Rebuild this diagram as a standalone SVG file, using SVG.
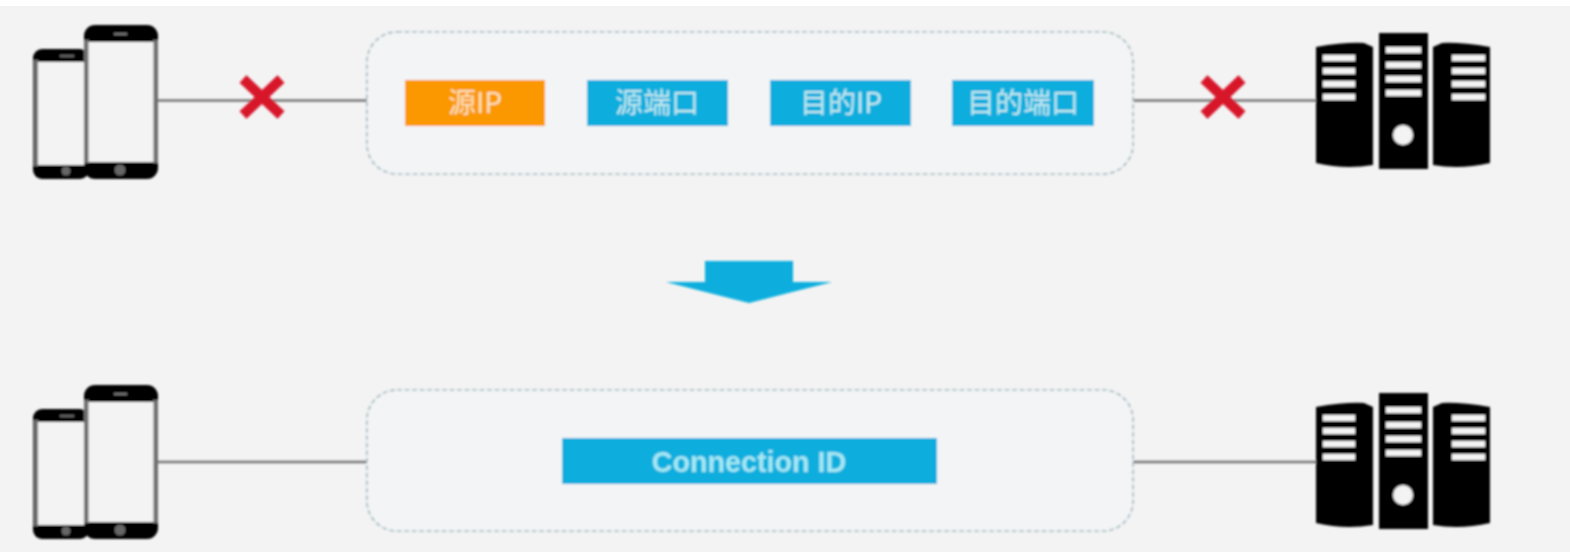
<svg xmlns="http://www.w3.org/2000/svg" width="1570" height="552" viewBox="0 0 1570 552">
<style>
.box{fill:#f3f4f6;stroke:#a5bcc2;stroke-width:1.7;stroke-dasharray:5 2.5}
.line{stroke:#777;stroke-width:2.6;fill:none}
.x{stroke:#d8142a;stroke-width:10;fill:none}
.lbl{font-family:"Noto Sans CJK SC","Liberation Sans",sans-serif;font-size:28px;fill:#c6ecf0;text-anchor:middle;font-weight:400}
.lbl2{fill:#fbe3bd}
.en{font-family:"Liberation Sans",Arial,sans-serif;font-size:28.700px;font-weight:700;fill:#a5e8f4;text-anchor:middle}
.blue{fill:#07aede}
.orange{fill:#fb9804}
.k{fill:#050505}
.g{fill:#6e6e6e}
.s{fill:#f3f3f3}
</style>
<defs>
<filter id="b" x="-10%" y="-10%" width="120%" height="120%"><feGaussianBlur stdDeviation="1"/></filter>
<g id="phones">
<rect x="33" y="49" width="56" height="130" rx="9" class="k"/>
<rect x="33.500" y="60" width="5" height="106" class="g"/>
<rect x="38" y="62" width="46" height="103" fill="#f3f3f3"/>
<rect x="60" y="55" width="14" height="2" fill="#666"/>
<circle cx="66" cy="171" r="4.500" fill="#666"/>
<rect x="84" y="25" width="74" height="154" rx="11" class="k"/>
<rect x="84" y="40" width="5" height="123" class="g"/>
<rect x="153" y="40" width="5" height="123" class="g"/>
<rect x="88.500" y="42" width="65" height="120" fill="#f3f3f3"/>
<rect x="114" y="33" width="13" height="2" fill="#777"/>
<circle cx="120" cy="170" r="5.500" fill="#666"/>
</g>
<g id="servers">
<path class="k" d="M1316 47 Q1345 42 1364 43 L1373 47 V165 Q1345 170 1316 163Z"/>
<rect x="1379" y="33" width="49" height="136" class="k"/>
<path class="k" d="M1490 47 Q1460 42 1442 43 L1433 47 V165 Q1460 170 1490 163Z"/>
<g class="s">
<rect x="1323" y="55" width="32" height="6"/><rect x="1323" y="68" width="32" height="6"/><rect x="1323" y="81" width="32" height="6"/><rect x="1323" y="94" width="32" height="6"/>
<rect x="1386" y="47" width="35" height="6"/><rect x="1386" y="62" width="35" height="6"/><rect x="1386" y="76" width="35" height="6"/><rect x="1386" y="90" width="35" height="6"/>
<rect x="1452" y="55" width="33" height="6"/><rect x="1452" y="68" width="33" height="6"/><rect x="1452" y="81" width="33" height="6"/><rect x="1452" y="94" width="33" height="6"/>
<circle cx="1403" cy="135" r="10"/>
</g>
</g>
</defs>
<rect width="1570" height="552" fill="#f3f3f3"/>
<rect width="1570" height="6" fill="#fff"/>
<g filter="url(#b)">
<g id="connectors">
<line class="line" x1="158" y1="100.500" x2="367" y2="100.500"/>
<line class="line" x1="1133" y1="100.500" x2="1316" y2="100.500"/>
<line class="line" x1="158" y1="462" x2="367" y2="462"/>
<line class="line" x1="1133" y1="462" x2="1316" y2="462"/>
</g>
<g id="phone-top"><use href="#phones"/></g>
<g id="server-top"><use href="#servers"/></g>
<g id="phone-bottom"><use href="#phones" y="360"/></g>
<g id="server-bottom"><use href="#servers" y="360"/></g>
<g id="cross-left"><path class="x" d="M243 79 L281 115 M281 79 L243 115"/></g>
<g id="cross-right"><path class="x" d="M1204 79 L1242 115 M1242 79 L1204 115"/></g>
<g id="box-top"><rect class="box" x="367" y="32" width="766" height="142" rx="30"/></g>
<g id="box-bottom"><rect class="box" x="367" y="390" width="766" height="141" rx="30"/></g>
<g id="src-ip"><rect class="orange" x="405" y="80" width="140" height="46"/><text class="lbl lbl2" x="475" y="113">源IP</text></g>
<g id="src-port"><rect class="blue" x="587" y="80" width="141" height="46"/><text class="lbl" x="657" y="113">源端口</text></g>
<g id="dst-ip"><rect class="blue" x="770" y="80" width="141" height="46"/><text class="lbl" x="841" y="113">目的IP</text></g>
<g id="dst-port"><rect class="blue" x="952" y="80" width="142" height="46"/><text class="lbl" x="1023" y="113">目的端口</text></g>
<g id="conn-id"><rect class="blue" x="562" y="438" width="375" height="46"/><text class="en" x="749" y="472">Connection ID</text></g>
<g id="down-arrow"><path class="blue" d="M705 261 H793 V282 H832 L749 303 L666 282 H705Z"/></g>
</g>
</svg>
